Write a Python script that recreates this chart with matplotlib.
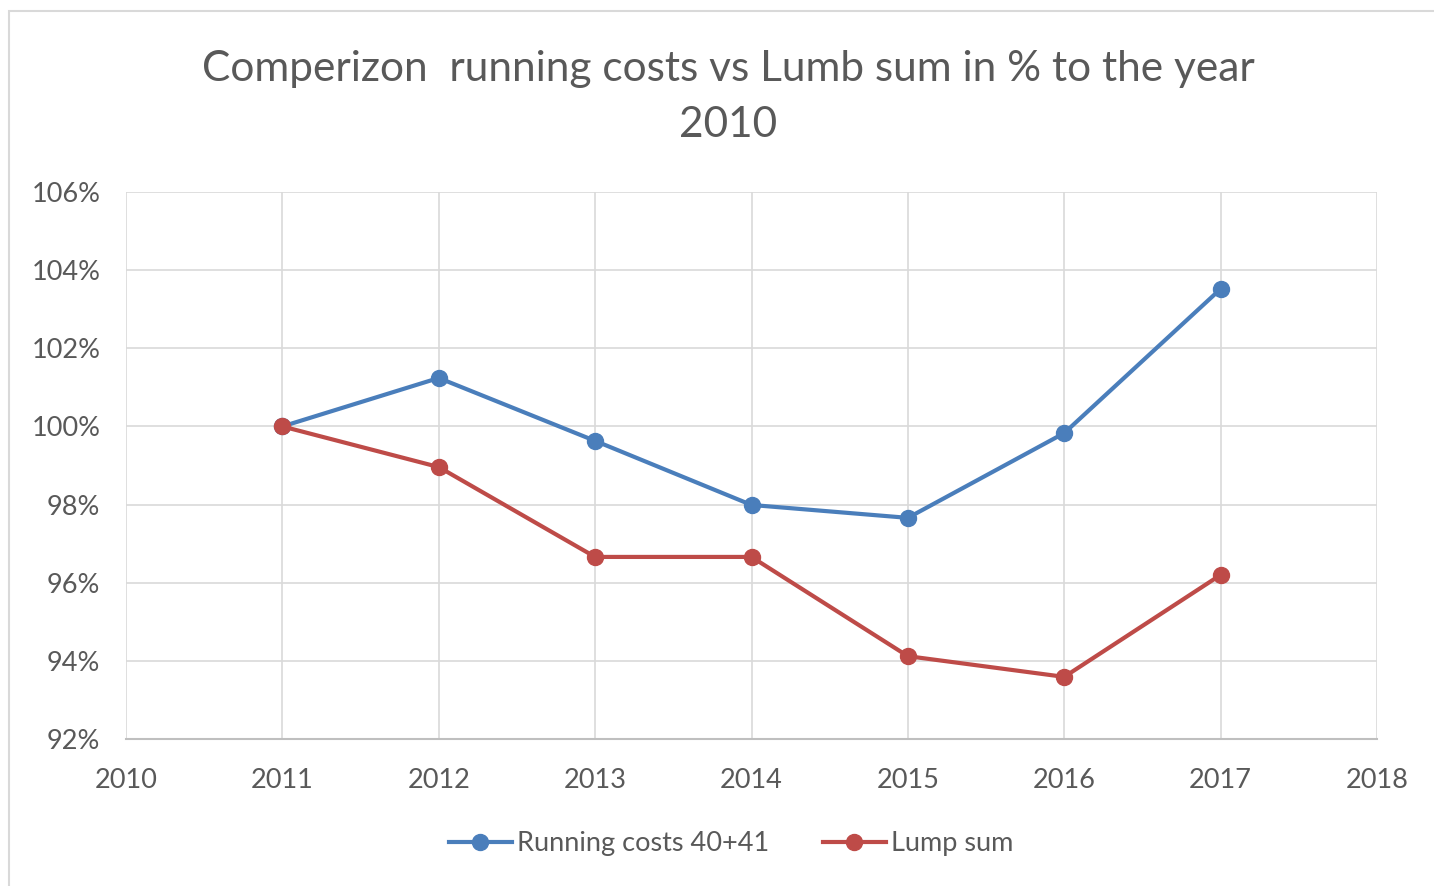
import matplotlib.pyplot as plt
from matplotlib.patches import Rectangle
from matplotlib.ticker import FuncFormatter

# values (% of 2010)
years = [2011, 2012, 2013, 2014, 2015, 2016, 2017]
running_costs = [100.0, 101.24, 99.63, 97.99, 97.66, 99.83, 103.52]
lump_sum = [100.0, 98.96, 96.66, 96.66, 94.12, 93.59, 96.2]

x_ticks = list(range(2010, 2019))
y_ticks = list(range(92, 107, 2))

plt.rcParams['font.family'] = ['Lato', 'DejaVu Sans']
txt = '#595959'

fig = plt.figure(figsize=(14.34, 8.86), dpi=100)
ax = fig.add_axes([126 / 1434, 1 - 739 / 886, (1377 - 126) / 1434, (739 - 192) / 886])

# chart area border (only top and left are visible in the crop)
fig.patches.append(Rectangle((9 / 1434, -0.05), 1.1, 1 - 11 / 886 + 0.05,
                             transform=fig.transFigure, fill=False,
                             edgecolor='#D9D9D9', linewidth=1.5))

ax.plot(years, running_costs, color='#4A7EBB', lw=3, marker='o', ms=11.5,
        label='Running costs 40+41', zorder=3)
ax.plot(years, lump_sum, color='#BE4B48', lw=3, marker='o', ms=11.5,
        label='Lump sum', zorder=3)

ax.set_xlim(2010, 2018)
ax.set_ylim(92, 106)
ax.set_xticks(x_ticks)
ax.set_yticks(y_ticks)
ax.yaxis.set_major_formatter(FuncFormatter(lambda v, p: f'{v:.0f}%'))
ax.grid(True, color='#D9D9D9', lw=1.2)
ax.set_axisbelow(True)
for s in ['top', 'right', 'left']:
    ax.spines[s].set_visible(False)
ax.spines['bottom'].set_color('#BFBFBF')
ax.spines['bottom'].set_linewidth(1.5)
ax.tick_params(length=0, labelsize=19.5, labelcolor=txt)
ax.tick_params(axis='y', pad=18.5)
ax.tick_params(axis='x', pad=21)

fig.text(0.508, 1 - 69 / 886, 'Comperizon  running costs vs Lumb sum in % to the year',
         ha='center', va='center', fontsize=30.5, color=txt)
fig.text(0.508, 1 - 125 / 886, '2010', ha='center', va='center', fontsize=30.5, color=txt)

fig.legend(loc='center', bbox_to_anchor=(0.51, 1 - 844 / 886), ncol=2, frameon=False,
           fontsize=19.5, labelcolor=txt, handlelength=2.3, handletextpad=0.2,
           columnspacing=2.0)

fig.savefig('out.png', dpi=100)
